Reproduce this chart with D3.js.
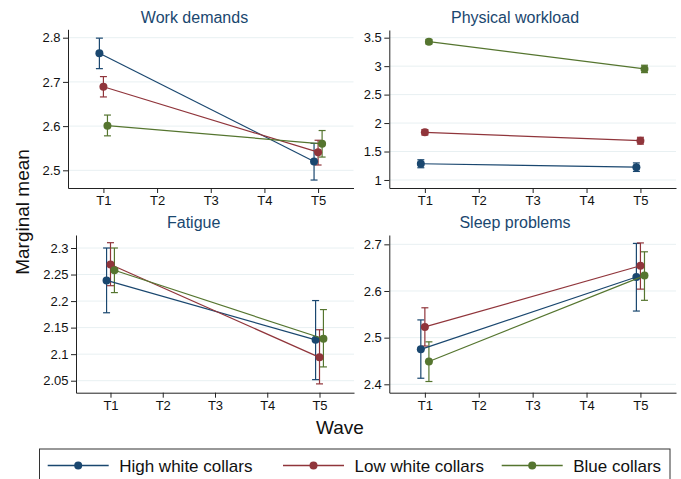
<!DOCTYPE html>
<html><head><meta charset="utf-8">
<script src="https://cdn.jsdelivr.net/npm/d3@7"></script>
<style>
body{margin:0;background:#fff}
svg{display:block;font-family:"Liberation Sans",Arial,Helvetica,sans-serif}
</style>
</head><body>
<svg id="chart" width="681" height="479"></svg>
<script>
// ---------- data ----------
const waves = ["T1", "T2", "T3", "T4", "T5"];
const waveValues = [1, 2, 3, 4, 5];
const measuredWaves = [1, 5];
const groups = ["High white collars", "Low white collars", "Blue collars"];
const groupOffsets = [-0.075, 0, 0.075];
const panelTitles = ["Work demands", "Physical workload", "Fatigue", "Sleep problems"];

// [group][wave T1,T5]
const workDemandsMean = [[2.765, 2.520], [2.689, 2.541], [2.601, 2.560]];
const workDemandsLow  = [[2.730, 2.478], [2.666, 2.512], [2.578, 2.530]];
const workDemandsHigh = [[2.799, 2.561], [2.712, 2.568], [2.625, 2.590]];

const physicalMean = [[1.285, 1.225], [1.838, 1.690], [3.430, 2.951]];
const physicalLow  = [[1.215, 1.150], [1.790, 1.630], [3.390, 2.886]];
const physicalHigh = [[1.355, 1.300], [1.886, 1.750], [3.470, 3.016]];

const fatigueMean = [[2.239, 2.127], [2.269, 2.094], [2.258, 2.129]];
const fatigueLow  = [[2.178, 2.052], [2.229, 2.044], [2.216, 2.076]];
const fatigueHigh = [[2.300, 2.201], [2.310, 2.146], [2.300, 2.184]];

const sleepMean = [[2.475, 2.630], [2.523, 2.654], [2.449, 2.633]];
const sleepLow  = [[2.413, 2.557], [2.482, 2.604], [2.406, 2.580]];
const sleepHigh = [[2.538, 2.702], [2.564, 2.703], [2.491, 2.684]];

const yTicks = [
  [2.5, 2.6, 2.7, 2.8],
  [1, 1.5, 2, 2.5, 3, 3.5],
  [2.05, 2.1, 2.15, 2.2, 2.25, 2.3],
  [2.4, 2.5, 2.6, 2.7]
];
const yLimits = [[2.46, 2.819], [0.859, 3.635], [2.0274, 2.3245], [2.382, 2.72]];
const xLimits = [0.34, 5.66];

const legendLabels = groups;
const xTitle = "Wave";
const yTitle = "Marginal mean";

// ---------- style / layout ----------
const colors = ["#1a476f", "#90353b", "#55752f"];
const layout = [
  {left: 68,    right: 353.5, top: 29.3, bottom: 188,   tx: 194.5, ty: 23.3},
  {left: 389.3, right: 676,   top: 30,   bottom: 188,   tx: 515,   ty: 23.3},
  {left: 76,    right: 354,   top: 235,  bottom: 392.7, tx: 193.7, ty: 227.5},
  {left: 389.3, right: 676,   top: 235,  bottom: 392.7, tx: 515,   ty: 227.5}
];
const panelData = [
  [workDemandsMean, workDemandsLow, workDemandsHigh],
  [physicalMean, physicalLow, physicalHigh],
  [fatigueMean, fatigueLow, fatigueHigh],
  [sleepMean, sleepLow, sleepHigh]
];

const svg = d3.select("#chart");
svg.append("rect").attr("width", 681).attr("height", 479).attr("fill", "#fff");

panelTitles.forEach((title, p) => {
  const L = layout[p];
  const [mean, low, high] = panelData[p];
  const x = d3.scaleLinear().domain(xLimits).range([L.left, L.right]);
  const y = d3.scaleLinear().domain(yLimits[p]).range([L.bottom, L.top]);
  const g = svg.append("g");

  // grid
  g.selectAll("line.grid").data(yTicks[p]).join("line")
    .attr("x1", L.left).attr("x2", L.right)
    .attr("y1", d => y(d)).attr("y2", d => y(d))
    .attr("stroke", "#e8f0f2").attr("stroke-width", 1);

  // axes
  const yAxis = d3.axisLeft(y).tickValues(yTicks[p]).tickSize(5).tickSizeOuter(0)
    .tickPadding(2.5).tickFormat(d => String(d));
  const ya = g.append("g").attr("transform", `translate(${L.left},0)`).call(yAxis);
  const xAxis = d3.axisBottom(x).tickValues(waveValues).tickSize(5).tickSizeOuter(0)
    .tickPadding(3).tickFormat((d, i) => waves[i]);
  const xa = g.append("g").attr("transform", `translate(0,${L.bottom})`).call(xAxis);
  [ya, xa].forEach(a => {
    a.select(".domain").attr("stroke", "#222").attr("stroke-width", 1);
    a.selectAll(".tick line").attr("stroke", "#222");
    a.selectAll(".tick text").attr("fill", "#111").attr("font-size", 13)
      .attr("font-family", "'Liberation Sans',Arial,Helvetica,sans-serif");
  });

  // title
  g.append("text").attr("x", L.tx).attr("y", L.ty).attr("text-anchor", "middle")
    .attr("font-size", 16).attr("fill", "#1a476f").text(title);

  // CIs
  groups.forEach((gr, k) => {
    measuredWaves.forEach((w, j) => {
      const cx = x(w + groupOffsets[k]);
      const cg = g.append("g").attr("stroke", colors[k]).attr("stroke-width", 1.2).attr("fill", "none");
      cg.append("line").attr("x1", cx).attr("x2", cx).attr("y1", y(low[k][j])).attr("y2", y(high[k][j]));
      cg.append("line").attr("x1", cx - 3.5).attr("x2", cx + 3.5).attr("y1", y(low[k][j])).attr("y2", y(low[k][j]));
      cg.append("line").attr("x1", cx - 3.5).attr("x2", cx + 3.5).attr("y1", y(high[k][j])).attr("y2", y(high[k][j]));
    });
  });
  // lines + markers
  groups.forEach((gr, k) => {
    const pts = measuredWaves.map((w, j) => [x(w + groupOffsets[k]), y(mean[k][j])]);
    g.append("path").attr("d", d3.line()(pts)).attr("stroke", colors[k])
      .attr("stroke-width", 1.2).attr("fill", "none");
    g.selectAll(null).data(pts).join("circle")
      .attr("cx", d => d[0]).attr("cy", d => d[1]).attr("r", 4).attr("fill", colors[k]);
  });
});

// axis titles
svg.append("text").attr("transform", "translate(28.5,212) rotate(-90)")
  .attr("text-anchor", "middle").attr("font-size", 19).attr("fill", "#111").text(yTitle);
svg.append("text").attr("x", 340).attr("y", 434).attr("text-anchor", "middle")
  .attr("font-size", 19).attr("fill", "#111").text(xTitle);

// legend
const legendX = [47.7, 283, 501.7];
const lg = svg.append("g");
lg.append("rect").attr("x", 39.5).attr("y", 449).attr("width", 630.5).attr("height", 45)
  .attr("fill", "#fff").attr("stroke", "#333").attr("stroke-width", 1);
legendLabels.forEach((lab, k) => {
  const x0 = legendX[k];
  lg.append("line").attr("x1", x0).attr("x2", x0 + 61).attr("y1", 465.5).attr("y2", 465.5)
    .attr("stroke", colors[k]).attr("stroke-width", 1.5);
  lg.append("circle").attr("cx", x0 + 30.5).attr("cy", 465.5).attr("r", 4).attr("fill", colors[k]);
  lg.append("text").attr("x", x0 + 71.5).attr("y", 471.5).attr("font-size", 17)
    .attr("fill", "#111").text(lab);
});
</script>
</body></html>
